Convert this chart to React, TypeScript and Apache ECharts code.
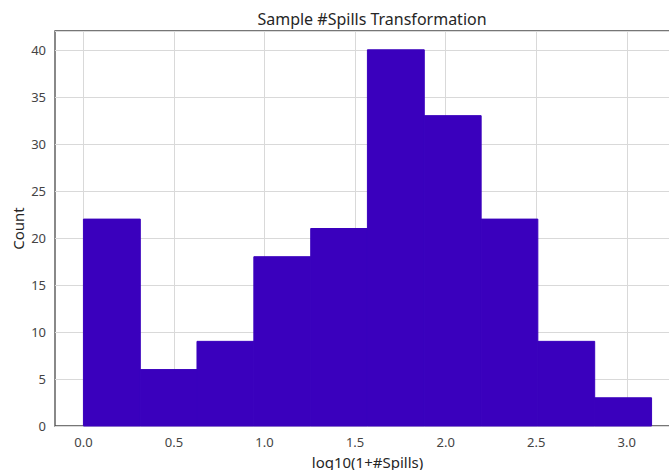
import React, { useEffect, useRef } from "react";
import * as echarts from "echarts";

const binEdges = [0, 0.314, 0.627, 0.941, 1.255, 1.568, 1.882, 2.196, 2.509, 2.823, 3.137];
const counts = [22, 6, 9, 18, 21, 40, 33, 22, 9, 3];
const xTicks = [0, 0.5, 1.0, 1.5, 2.0, 2.5, 3.0];
const xMin = -0.157;
const xMax = 3.294;
const yMax = 42;

const FONT = "Noto Sans";

export default function App() {
  const ref = useRef<HTMLDivElement>(null);
  useEffect(() => {
    document.body.style.margin = "0";
    const chart = echarts.init(ref.current!, null, { renderer: "svg" });
    const data = counts.map((c, i) => [binEdges[i], binEdges[i + 1], c]);
    chart.setOption({
      animation: false,
      backgroundColor: "#ffffff",
      title: {
        text: "Sample #Spills Transformation",
        left: 367,
        textAlign: "center",
        top: 6,
        textStyle: { fontFamily: FONT, fontSize: 16, fontWeight: "normal", color: "#262626" },
      },
      grid: {
        left: 55,
        top: 31,
        width: 625,
        height: 395,
        outerBoundsMode: "none",
        containLabel: false,
        show: true,
        backgroundColor: "#ffffff",
        borderColor: "#4a4a4a",
        borderWidth: 1.3,
      },
      xAxis: {
        type: "value",
        min: xMin,
        max: xMax,
        name: "log10(1+#Spills)",
        nameLocation: "middle",
        nameGap: 28,
        nameMoveOverlap: false,
        nameTextStyle: { fontFamily: FONT, fontSize: 15, color: "#262626" },
        axisLine: { show: false },
        axisTick: { show: false },
        splitLine: { show: false },
        axisLabel: {
          customValues: xTicks,
          fontFamily: FONT,
          fontSize: 13,
          color: "#444444",
          margin: 9,
          formatter: (v: number) => v.toFixed(1),
        },
      },
      yAxis: {
        type: "value",
        min: 0,
        max: yMax,
        interval: 5,
        name: "Count",
        nameLocation: "middle",
        nameGap: 30,
        nameMoveOverlap: false,
        nameTextStyle: { fontFamily: FONT, fontSize: 15, color: "#262626" },
        axisLine: { show: false },
        axisTick: { show: false },
        splitLine: { show: true, lineStyle: { color: "#d9d9d9", width: 1 } },
        axisLabel: {
          fontFamily: FONT,
          fontSize: 13,
          color: "#444444",
          margin: 9,
          formatter: (v: number) => (v % 5 === 0 && v <= 40 ? String(v) : ""),
        },
      },
      series: [
        {
          type: "custom",
          data,
          encode: { x: [0, 1], y: 2 },
          z: 2,
          renderItem: (params: any, api: any) => {
            const p0 = api.coord([api.value(0), api.value(2)]);
            const p1 = api.coord([api.value(1), 0]);
            return {
              type: "rect",
              shape: { x: p0[0], y: p0[1], width: p1[0] - p0[0], height: p1[1] - p0[1] },
              style: { fill: "#3a00bd", stroke: "#3a00bd", lineWidth: 1 },
            };
          },
          markLine: {
            silent: true,
            symbol: "none",
            label: { show: false },
            z: 1,
            lineStyle: { color: "#d9d9d9", width: 1, type: "solid" },
            data: xTicks.map((t) => ({ xAxis: t })),
          },
        },
      ],
    });
    return () => chart.dispose();
  }, []);
  return (
    <div style={{ width: 669, height: 470, overflow: "hidden", position: "relative" }}>
      <div ref={ref} style={{ width: 669, height: 470 }} />
    </div>
  );
}
